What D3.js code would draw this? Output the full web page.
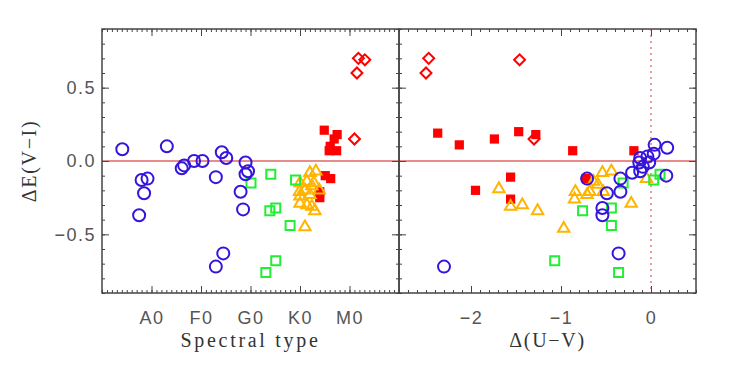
<!DOCTYPE html>
<html>
<head>
<meta charset="utf-8">
<script src="https://cdn.jsdelivr.net/npm/d3@7"></script>
<style>
  body { margin: 0; background: #fff; }
  svg { display: block; }
</style>
</head>
<body>
<div id="chart"></div>
<script>
// spectral type axis: B0=0, A0=10, F0=20, G0=30, K0=40, M0=50
const spTicks = [10, 20, 30, 40, 50];
const spLabels = ['A0', 'F0', 'G0', 'K0', 'M0'];
const uvTicks = [-2, -1, 0];
const deTicks = [-0.5, 0, 0.5];

// left panel: [spectral type, dE(V-I)]
const circlesL = [[4.1,0.08],[13.1,0.10],[8.0,-0.13],[9.2,-0.12],[8.5,-0.22],[7.5,-0.37],[16.1,-0.05],[16.6,-0.03],
  [18.6,0.00],[20.3,0.00],[23.0,-0.11],[24.2,0.06],[25.1,0.02],[23.0,-0.72],[24.5,-0.63],[29.0,-0.01],
  [29.5,-0.07],[29.0,-0.09],[28.0,-0.21],[28.5,-0.33]];
const squaresL = [[34.1,-0.09],[30.1,-0.15],[39.1,-0.13],[33.9,-0.34],[35.1,-0.32],[38.0,-0.44],[35.1,-0.68],[33.1,-0.76]];
const trianglesL = [[42.0,-0.08],[43.2,-0.07],[40.0,-0.15],[41.4,-0.14],[42.8,-0.15],[42.4,-0.17],[39.9,-0.21],[41.0,-0.20],
  [43.9,-0.20],[40.0,-0.24],[42.0,-0.23],[40.0,-0.29],[41.4,-0.30],[42.4,-0.31],[43.0,-0.34],[41.0,-0.45]];
const filledL = [[44.9,0.21],[47.5,0.18],[46.9,0.15],[46.1,0.10],[47.4,0.07],[45.9,0.07],[45.1,-0.10],[46.2,-0.12],[44.0,-0.21],[44.0,-0.25]];
const diamondsL = [[51.8,0.70],[53.1,0.69],[51.5,0.60],[51.0,0.15]];

// right panel: [d(U-V), dE(V-I)]
const circlesR = [[0.04,0.11],[0.18,0.09],[0.03,0.05],[-0.04,0.03],[-0.12,0.02],[-0.13,-0.01],[-0.02,-0.01],[-0.09,-0.04],
  [-0.21,-0.08],[-0.12,-0.07],[-0.34,-0.12],[-0.34,-0.21],[-0.49,-0.22],[-0.54,-0.32],[-0.54,-0.37],[0.17,-0.10],
  [-0.71,-0.12],[-0.36,-0.63],[-2.30,-0.72]];
const squaresR = [[-0.76,-0.34],[-0.44,-0.32],[-0.44,-0.44],[-0.31,-0.15],[0.10,-0.09],[0.03,-0.13],[-1.07,-0.68],[-0.36,-0.76]];
const trianglesR = [[-1.69,-0.19],[-1.56,-0.31],[-1.43,-0.30],[-1.26,-0.34],[-0.97,-0.46],[-0.84,-0.21],[-0.85,-0.26],[-0.71,-0.23],
  [-0.68,-0.21],[-0.64,-0.14],[-0.59,-0.16],[-0.54,-0.08],[-0.44,-0.07],[-0.53,-0.21],[-0.22,-0.29],[-0.05,-0.12]];
const filledR = [[-2.37,0.19],[-2.13,0.11],[-1.95,-0.20],[-1.74,0.15],[-1.56,-0.11],[-1.56,-0.26],[-1.47,0.20],[-1.28,0.18],
  [-0.87,0.07],[-0.72,-0.12],[-0.19,0.07]];
const diamondsR = [[-2.47,0.70],[-2.50,0.60],[-1.46,0.69],[-1.30,0.15]];

const width = 729, height = 374;
const plotTop = 29, plotBottom = 293;
const axisColor = '#444';

const svg = d3.select('#chart').append('svg')
  .attr('width', width).attr('height', height)
  .attr('viewBox', [0, 0, width, height]);

svg.append('rect').attr('width', width).attr('height', height).attr('fill', 'white');

const y = d3.scaleLinear().domain([-0.9, 0.9]).range([plotBottom, plotTop]);
const xL = d3.scaleLinear().domain([0, 60]).range([102, 399]);
const xR = d3.scaleLinear().domain([-2.8, 0.5]).range([399, 696]);

const yMinor = d3.range(-9, 10).map(d => d / 10);

function styleAxis(g) {
  g.select('.domain').remove();
  g.selectAll('line').attr('stroke', axisColor).attr('stroke-width', 1);
  g.selectAll('text')
    .attr('fill', '#555')
    .attr('font-family', 'Liberation Sans, Arial, sans-serif')
    .attr('font-size', 18)
    .attr('letter-spacing', 1.5);
}

function panel(x, majors, minors, labels, showY) {
  const [x0, x1] = x.range();
  const g = svg.append('g');

  // x axes, ticks pointing inward
  g.append('g').attr('transform', `translate(0,${plotBottom})`)
    .call(d3.axisBottom(x).tickValues(minors).tickSize(-3).tickFormat(''))
    .call(styleAxis);
  g.append('g').attr('transform', `translate(0,${plotBottom})`)
    .call(d3.axisBottom(x).tickValues(majors).tickSize(-7).tickPadding(18)
      .tickFormat((d, i) => labels ? labels[i] : d3.format('d')(d)))
    .call(styleAxis);
  g.append('g').attr('transform', `translate(0,${plotTop})`)
    .call(d3.axisTop(x).tickValues(minors).tickSize(-3).tickFormat(''))
    .call(styleAxis);
  g.append('g').attr('transform', `translate(0,${plotTop})`)
    .call(d3.axisTop(x).tickValues(majors).tickSize(-7).tickFormat(''))
    .call(styleAxis);

  // y axes
  g.append('g').attr('transform', `translate(${x0},0)`)
    .call(d3.axisLeft(y).tickValues(yMinor).tickSize(-3).tickFormat(''))
    .call(styleAxis);
  g.append('g').attr('transform', `translate(${x0},0)`)
    .call(d3.axisLeft(y).tickValues(deTicks).tickSize(-7).tickPadding(6)
      .tickFormat(showY ? d3.format('.1f') : ''))
    .call(styleAxis);
  g.append('g').attr('transform', `translate(${x1},0)`)
    .call(d3.axisRight(y).tickValues(yMinor).tickSize(-3).tickFormat(''))
    .call(styleAxis);
  g.append('g').attr('transform', `translate(${x1},0)`)
    .call(d3.axisRight(y).tickValues(deTicks).tickSize(-7).tickFormat(''))
    .call(styleAxis);

  // zero line
  g.append('line')
    .attr('x1', x0).attr('x2', x1)
    .attr('y1', y(0)).attr('y2', y(0))
    .attr('stroke', '#d01818').attr('stroke-width', 1);

  g.append('rect')
    .attr('x', x0).attr('y', plotTop)
    .attr('width', x1 - x0).attr('height', plotBottom - plotTop)
    .attr('fill', 'none').attr('stroke', axisColor).attr('stroke-width', 1.5);
  return g;
}

const gL = panel(xL, spTicks, d3.range(0, 61), spLabels, true);
const gR = panel(xR, uvTicks, d3.range(-28, 6).map(d => d / 10), null, false);

// dotted line at d(U-V)=0
gR.append('line')
  .attr('x1', xR(0)).attr('x2', xR(0))
  .attr('y1', plotTop).attr('y2', plotBottom)
  .attr('stroke', '#c83838').attr('stroke-width', 1)
  .attr('stroke-dasharray', '2,4');

const sq = d3.symbol(d3.symbolSquare, 81)();
const sqFill = d3.symbol(d3.symbolSquare, 85)();
const tri = d3.symbol(d3.symbolTriangle, 56)();
const dia = d3.symbol(d3.symbolSquare, 60)();

function marks(g, x, filled, diamonds, triangles, squares, circles) {
  g.append('g').selectAll('path').data(filled).join('path')
    .attr('d', sqFill)
    .attr('transform', d => `translate(${x(d[0])},${y(d[1])})`)
    .attr('fill', '#ff0000');
  g.append('g').selectAll('path').data(diamonds).join('path')
    .attr('d', dia)
    .attr('transform', d => `translate(${x(d[0])},${y(d[1])}) rotate(45)`)
    .attr('fill', 'none').attr('stroke', '#ff0000').attr('stroke-width', 2);
  g.append('g').selectAll('path').data(triangles).join('path')
    .attr('d', tri)
    .attr('transform', d => `translate(${x(d[0])},${y(d[1])})`)
    .attr('fill', 'none').attr('stroke', '#ffb400').attr('stroke-width', 2);
  g.append('g').selectAll('path').data(squares).join('path')
    .attr('d', sq)
    .attr('transform', d => `translate(${x(d[0])},${y(d[1])})`)
    .attr('fill', 'none').attr('stroke', '#22ee33').attr('stroke-width', 2);
  g.append('g').selectAll('circle').data(circles).join('circle')
    .attr('cx', d => x(d[0])).attr('cy', d => y(d[1])).attr('r', 6)
    .attr('fill', 'none').attr('stroke', '#3514dc').attr('stroke-width', 2);
}

marks(gL, xL, filledL, diamondsL, trianglesL, squaresL, circlesL);
marks(gR, xR, filledR, diamondsR, trianglesR, squaresR, circlesR);

// axis titles
const serif = 'Liberation Serif, Times New Roman, serif';
svg.append('text')
  .attr('x', (xL.range()[0] + xL.range()[1]) / 2).attr('y', 347)
  .attr('text-anchor', 'middle')
  .attr('font-family', serif).attr('font-size', 20).attr('letter-spacing', 2.7)
  .attr('fill', '#333')
  .text('Spectral type');
svg.append('text')
  .attr('x', (xR.range()[0] + xR.range()[1]) / 2).attr('y', 347)
  .attr('text-anchor', 'middle')
  .attr('font-family', serif).attr('font-size', 20).attr('letter-spacing', 1.7)
  .attr('fill', '#333')
  .text('Δ(U−V)');
svg.append('text')
  .attr('transform', `translate(36,${y(0)}) rotate(-90)`)
  .attr('text-anchor', 'middle')
  .attr('font-family', serif).attr('font-size', 20).attr('letter-spacing', 1.7)
  .attr('fill', '#333')
  .text('ΔE(V−I)');
</script>
</body>
</html>
